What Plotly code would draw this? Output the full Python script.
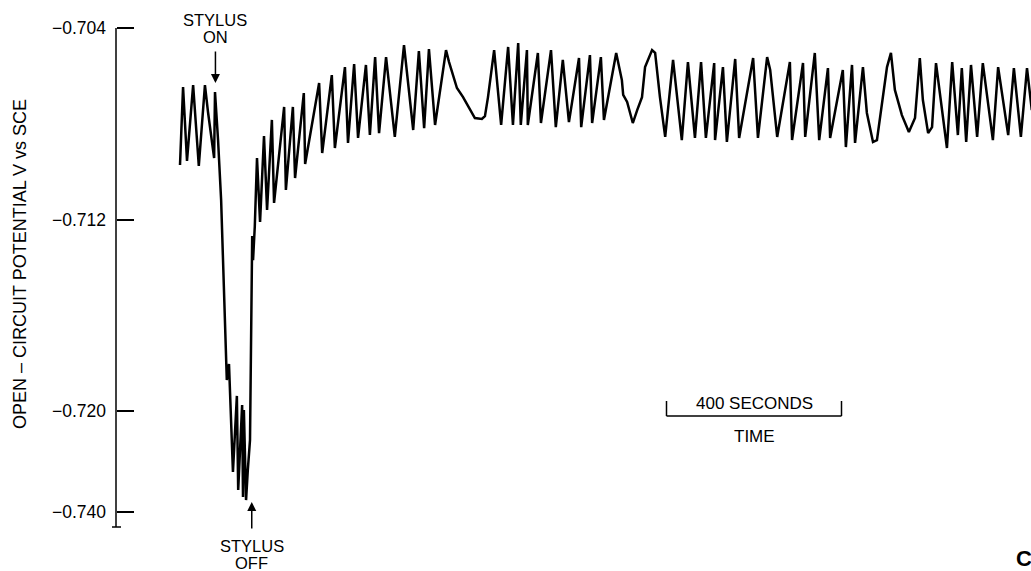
import plotly.graph_objects as go

# Open-circuit potential record (time in s, potential in mV on the chart scale)
time_s = [
    0, 7, 16, 30, 43, 57, 64, 78, 80, 87,
    94, 98, 103, 107, 112, 117, 121, 130, 133, 142,
    144, 146, 151, 155, 160, 165, 167, 171, 176, 183,
    192, 199, 210, 215, 238, 242, 258, 263, 283, 286,
    318, 325, 347, 354, 377, 384, 398, 407, 425, 434,
    446, 455, 471, 491, 512, 533, 546, 558, 569, 583,
    608, 615, 622, 633, 647, 663, 674, 690, 697, 704,
    718, 734, 750, 761, 773, 779, 793, 795, 818, 825,
    848, 859, 875, 889, 912, 917, 937, 942, 962, 969,
    997, 1010, 1013, 1022, 1035, 1045, 1056, 1063, 1079, 1086,
    1097, 1109, 1127, 1147, 1161, 1177, 1191, 1202, 1221, 1223,
    1241, 1250, 1269, 1278, 1310, 1321, 1342, 1349, 1365, 1394,
    1399, 1424, 1429, 1451, 1461, 1481, 1486, 1515, 1522, 1536,
    1543, 1561, 1570, 1584, 1593, 1616, 1625, 1634, 1650, 1666,
    1680, 1691, 1698, 1710, 1719, 1728, 1753, 1765, 1778, 1787,
    1797, 1808, 1822, 1835, 1858, 1870, 1893, 1906, 1922, 1936,
    1947,
]
potential_mv = [
    -709.71, -706.46, -709.54, -706.38, -709.75, -706.38, -707.50, -709.42, -706.67, -708.67,
    -711.17, -713.25, -716.17, -718.67, -718.00, -720.75, -722.50, -719.33, -723.25, -719.71,
    -723.54, -719.92, -723.67, -722.42, -721.17, -712.67, -713.67, -712.25, -709.42, -712.08,
    -708.50, -711.58, -707.83, -711.29, -707.29, -710.75, -707.29, -710.25, -706.71, -709.67,
    -706.29, -709.21, -705.96, -709.00, -705.63, -708.79, -705.50, -708.58, -705.54, -708.46,
    -705.21, -708.38, -705.21, -708.54, -704.71, -708.25, -704.96, -708.17, -704.88, -708.04,
    -704.92, -705.42, -705.88, -706.50, -706.88, -707.42, -707.75, -707.79, -707.67, -706.88,
    -704.92, -708.04, -704.79, -708.04, -704.63, -708.04, -704.92, -708.04, -705.04, -707.96,
    -704.92, -708.13, -705.33, -707.92, -705.25, -708.13, -705.13, -707.96, -705.21, -707.83,
    -705.04, -706.17, -706.79, -707.08, -707.96, -707.42, -706.88, -705.63, -704.92, -705.04,
    -706.88, -708.54, -705.33, -708.67, -705.42, -708.58, -705.42, -708.58, -705.46, -708.67,
    -705.63, -708.75, -705.29, -708.58, -705.25, -708.58, -705.21, -705.75, -708.54, -705.42,
    -708.67, -705.46, -708.54, -705.04, -708.67, -705.67, -708.58, -705.75, -708.96, -705.54,
    -708.79, -705.63, -707.54, -708.75, -708.67, -705.63, -705.04, -706.58, -707.63, -708.33,
    -707.75, -705.25, -707.00, -708.38, -708.13, -705.46, -709.00, -705.42, -708.46, -705.67,
    -708.75, -705.54, -708.54, -705.46, -708.67, -705.63, -708.46, -705.67, -708.54, -705.67,
    -707.42,
]
potential_v = [v / 1000 for v in potential_mv]

tick_labels = ["\u22120.704", "\u22120.712", "\u22120.720", "\u22120.740"]
stylus_on_s = 81
stylus_off_s = 164
scale_bar_start_s = 1112
scale_bar_len_s = 400

W, H = 1031, 571
FONT = "Liberation Sans, Arial, Helvetica, sans-serif"

# chart scale: 24 px per mV, -0.704 V sits 28 px below the top edge
def vpx(py):
    return (-704.0 - (py - 28) / 24.0) / 1000.0

def tpx(px):
    return (px - 180) * 16.0 / 7.0

axis_x = 116 / W
tick_vals = [vpx(28), vpx(220), vpx(411), vpx(512)]

fig = go.Figure(
    go.Scatter(
        x=time_s,
        y=potential_v,
        mode="lines",
        line=dict(color="black", width=2.5),
        hoverinfo="skip",
    )
)

line_style = dict(color="black", width=1.5)
shapes = [
    # vertical axis line with end bar
    dict(type="line", xref="paper", yref="y", x0=axis_x, x1=axis_x,
         y0=vpx(28), y1=vpx(527), line=line_style),
    dict(type="line", xref="paper", yref="y", x0=112 / W, x1=121 / W,
         y0=vpx(527), y1=vpx(527), line=line_style),
    # 400 s scale bar
    dict(type="line", xref="x", yref="y", x0=scale_bar_start_s,
         x1=scale_bar_start_s + scale_bar_len_s, y0=vpx(416), y1=vpx(416),
         line=line_style),
    dict(type="line", xref="x", yref="y", x0=scale_bar_start_s,
         x1=scale_bar_start_s, y0=vpx(401), y1=vpx(416), line=line_style),
    dict(type="line", xref="x", yref="y", x0=scale_bar_start_s + scale_bar_len_s,
         x1=scale_bar_start_s + scale_bar_len_s, y0=vpx(401), y1=vpx(416),
         line=line_style),
]

txt = dict(family=FONT, size=16.5, color="black")
bar_mid = scale_bar_start_s + scale_bar_len_s / 2


def label(text, x, y, xref="x", yref="paper", **kw):
    return dict(text=text, x=x, y=y, xref=xref, yref=yref, xanchor="center",
                yanchor="middle", showarrow=False, font=kw.pop("font", txt), **kw)


annotations = [
    label("OPEN \u2013 CIRCUIT POTENTIAL V vs SCE", 20 / W, 1 - 264 / H,
          xref="paper", textangle=-90,
          font=dict(family=FONT, size=18, color="black")),
    label("STYLUS", stylus_on_s, 1 - 20 / H),
    label("ON", stylus_on_s, 1 - 37 / H),
    dict(text="", xref="x", yref="y", x=stylus_on_s, y=vpx(83),
         ax=0, ay=-33, showarrow=True, arrowhead=2, arrowsize=1.2,
         arrowwidth=1.5, arrowcolor="black"),
    label("STYLUS", stylus_off_s, 1 - 546 / H),
    label("OFF", stylus_off_s, 1 - 562.5 / H),
    dict(text="", xref="x", yref="y", x=stylus_off_s, y=vpx(502),
         ax=0, ay=28, showarrow=True, arrowhead=2, arrowsize=1.2,
         arrowwidth=1.5, arrowcolor="black"),
    label("400 SECONDS", bar_mid, vpx(403), yref="y",
          font=dict(family=FONT, size=17, color="black")),
    label("TIME", bar_mid, vpx(436), yref="y",
          font=dict(family=FONT, size=17, color="black")),
    dict(text="<b>C</b>", xref="paper", yref="paper", x=1014 / W, y=1 - 558 / H,
         xanchor="left", yanchor="middle", showarrow=False,
         font=dict(family=FONT, size=22, color="black")),
]

fig.update_layout(
    width=W,
    height=H,
    margin=dict(l=0, r=0, t=0, b=0),
    paper_bgcolor="white",
    plot_bgcolor="white",
    showlegend=False,
    xaxis=dict(range=[tpx(0), tpx(W)], visible=False),
    yaxis=dict(
        range=[vpx(H), vpx(0)],
        anchor="free",
        position=axis_x,
        showgrid=False,
        zeroline=False,
        showline=False,
        ticks="inside",
        ticklen=17,
        tickwidth=1.5,
        tickcolor="black",
        tickvals=tick_vals,
        ticktext=tick_labels,
        tickfont=dict(family=FONT, size=17.5, color="black"),
        ticklabelstandoff=10,
    ),
    shapes=shapes,
    annotations=annotations,
)

fig.write_html("out.html")
